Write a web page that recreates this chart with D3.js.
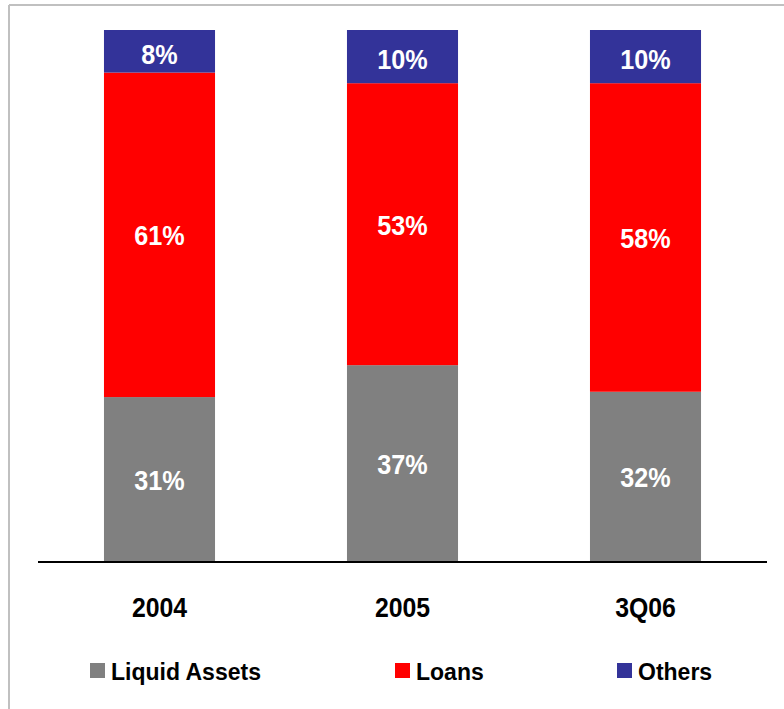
<!DOCTYPE html>
<html>
<head>
<meta charset="utf-8">
<script src="https://cdn.jsdelivr.net/npm/d3@7"></script>
<style>
  html, body { margin: 0; padding: 0; background: #ffffff; }
  svg { display: block; }
  text { font-family: "Liberation Sans", Arial, sans-serif; font-weight: bold; }
</style>
</head>
<body>
<svg id="chart" width="784" height="709"></svg>
<script>
// Asset mix by period (percent of total)
const categories = ["2004", "2005", "3Q06"];
const seriesNames = ["Liquid Assets", "Loans", "Others"];
const liquidAssets = [31, 37, 32];
const loans = [61, 53, 58];
const others = [8, 10, 10];
const seriesColors = ["#808080", "#ff0000", "#333399"];

const rows = categories.map((c, i) => ({
  category: c,
  "Liquid Assets": liquidAssets[i],
  "Loans": loans[i],
  "Others": others[i]
}));

const svg = d3.select("#chart");
const W = 784, H = 709;

// frame lines along top and left edges
svg.append("line").attr("x1", 9).attr("x2", W).attr("y1", 5).attr("y2", 5)
  .attr("stroke", "#c0c0c0").attr("stroke-width", 2);
svg.append("line").attr("x1", 9).attr("x2", 9).attr("y1", 5).attr("y2", H)
  .attr("stroke", "#c0c0c0").attr("stroke-width", 2);

const x = d3.scaleBand().domain(categories).range([38, 767])
  .paddingInner(0.543).paddingOuter(0.2715);
const y = d3.scaleLinear().domain([0, 100]).range([562, 30]);

const stacked = d3.stack().keys(seriesNames)(rows);

const layers = svg.append("g").selectAll("g")
  .data(stacked).join("g")
  .attr("fill", (d, i) => seriesColors[i]);

layers.selectAll("rect")
  .data(d => d)
  .join("rect")
  .attr("x", d => x(d.data.category))
  .attr("width", x.bandwidth())
  .attr("y", d => y(d[1]))
  .attr("height", d => y(d[0]) - y(d[1]));

// value labels centred in each segment
const labelG = svg.append("g");
stacked.forEach((layer, li) => {
  layer.forEach(d => {
    const cx = x(d.data.category) + x.bandwidth() / 2;
    const cy = (y(d[0]) + y(d[1])) / 2 + (li === 2 ? 3 : 1);
    labelG.append("text")
      .attr("transform", `translate(${cx},${cy}) scale(0.9,1)`)
      .attr("text-anchor", "middle")
      .attr("dominant-baseline", "central")
      .attr("font-size", 28)
      .attr("fill", "#ffffff")
      .text((d[1] - d[0]) + "%");
  });
});

// baseline axis with category labels
const axis = d3.axisBottom(x).tickSize(0).tickPadding(0);
const axisG = svg.append("g").attr("transform", "translate(0,562)").call(axis);
axisG.select(".domain").attr("stroke", "#000").attr("stroke-width", 2)
  .attr("d", "M38,0H767");
axisG.selectAll(".tick text")
  .attr("font-family", "Liberation Sans, Arial, sans-serif")
  .attr("font-weight", "bold")
  .attr("font-size", 27)
  .attr("fill", "#000")
  .attr("y", 0)
  .attr("dy", null)
  .attr("dominant-baseline", "central")
  .attr("transform", "translate(0,46) scale(0.92,1)");

// legend
const legendX = [90, 395, 617];
const legend = svg.append("g");
seriesNames.forEach((name, i) => {
  const g = legend.append("g").attr("transform", `translate(${legendX[i]},663)`);
  g.append("rect").attr("width", 15).attr("height", 15).attr("fill", seriesColors[i]);
  g.append("text").attr("x", 21).attr("y", 16.5)
    .attr("font-size", 23).attr("fill", "#000").text(name);
});
</script>
</body>
</html>
